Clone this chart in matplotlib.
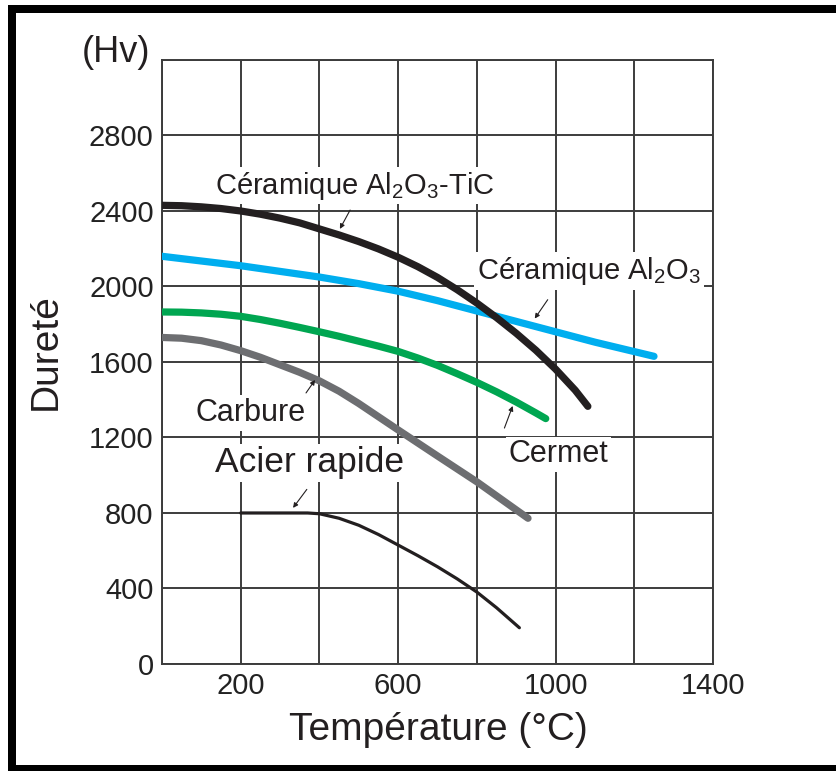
import matplotlib
matplotlib.use("Agg")
import matplotlib.pyplot as plt
from matplotlib.patches import Rectangle

plt.rcParams['font.family'] = ['Liberation Sans', 'DejaVu Sans']
plt.rcParams['mathtext.fontset'] = 'custom'
plt.rcParams['mathtext.rm'] = 'Liberation Sans'
plt.rcParams['mathtext.it'] = 'Liberation Sans'

# Hardness (Hv) versus temperature (deg C) for cutting-tool materials
tic_temp = [0, 50, 100, 150, 200, 250, 300, 350, 400, 450, 500, 550, 600, 650,
            700, 750, 800, 850, 900, 950, 1000, 1050, 1082]
tic_hv = [2430, 2428, 2422, 2413, 2400, 2383, 2362, 2337, 2305, 2273, 2238, 2199,
          2155, 2105, 2048, 1983, 1912, 1835, 1752, 1662, 1562, 1450, 1365]

alu_temp = [0, 100, 200, 300, 400, 500, 600, 700, 800, 900, 1000, 1100, 1250]
alu_hv = [2160, 2135, 2110, 2080, 2050, 2015, 1975, 1925, 1870, 1815, 1760, 1705, 1630]

cermet_temp = [0, 50, 100, 150, 200, 250, 300, 350, 400, 450, 500, 550, 600, 650,
               700, 750, 800, 850, 900, 950, 975]
cermet_hv = [1865, 1864, 1860, 1853, 1842, 1825, 1805, 1783, 1760, 1736, 1710, 1684,
             1656, 1621, 1582, 1538, 1492, 1442, 1388, 1330, 1300]

carb_temp = [0, 50, 100, 150, 200, 250, 300, 350, 400, 450, 500, 600, 700, 800, 930]
carb_hv = [1730, 1726, 1713, 1690, 1660, 1625, 1585, 1545, 1500, 1445, 1380, 1240,
           1102, 965, 772]

hss_temp = [200, 370, 400, 450, 500, 550, 600, 650, 700, 750, 800, 850, 908]
hss_hv = [800, 800, 796, 772, 735, 686, 630, 574, 515, 451, 381, 298, 192]

x_ticks = [200, 600, 1000, 1400]
y_ticks = [0, 400, 800, 1200, 1600, 2000, 2400, 2800]

fig = plt.figure(figsize=(8.37, 7.71), dpi=100)
ax = fig.add_axes([0.1935, 0.1388, 0.6584, 0.7834])

grid_c = '#3c3c3c'
for gx in range(0, 1401, 200):
    ax.axvline(gx, color=grid_c, lw=1.4, zorder=1)
for gy in range(0, 3201, 400):
    ax.axhline(gy, color=grid_c, lw=1.4, zorder=1)

ax.set_xlim(0, 1400)
ax.set_ylim(0, 3200)
for s in ax.spines.values():
    s.set_color(grid_c)
    s.set_linewidth(1.4)

ax.set_xticks(x_ticks)
ax.set_yticks(y_ticks)
ax.tick_params(length=0, labelsize=21, colors='#222222', pad=6)

lw_thick = 5.2
ax.plot(tic_temp, tic_hv, color='#231f20', lw=lw_thick, solid_capstyle='round',
        solid_joinstyle='round', zorder=4)
ax.plot(alu_temp, alu_hv, color='#00aeef', lw=lw_thick, solid_capstyle='round',
        solid_joinstyle='round', zorder=3)
ax.plot(cermet_temp, cermet_hv, color='#00a651', lw=lw_thick, solid_capstyle='round',
        solid_joinstyle='round', zorder=3)
ax.plot(carb_temp, carb_hv, color='#6d6e71', lw=lw_thick, solid_capstyle='round',
        solid_joinstyle='round', zorder=3)
ax.plot(hss_temp, hss_hv, color='#231f20', lw=2.3, solid_capstyle='round',
        solid_joinstyle='round', zorder=3)

box = dict(facecolor='white', edgecolor='none', pad=2)
txt_c = '#231f20'
arrow = dict(arrowstyle='-|>', color='#231f20', lw=0.8, mutation_scale=7, shrinkA=0, shrinkB=0)

ax.text(135, 2535, 'Céramique Al$_2$O$_3$-TiC', fontsize=21, color=txt_c,
        ha='left', va='center', bbox=box, zorder=2)
ax.annotate('', xy=(452, 2305), xytext=(478, 2405), arrowprops=arrow, zorder=5)

ax.text(800, 2080, 'Céramique Al$_2$O$_3$', fontsize=21, color=txt_c,
        ha='left', va='center', bbox=box, zorder=2)
ax.annotate('', xy=(947, 1830), xytext=(980, 1930), arrowprops=arrow, zorder=5)

ax.text(84, 1330, 'Carbure', fontsize=22, color=txt_c,
        ha='left', va='center', bbox=box, zorder=2)
ax.annotate('', xy=(389, 1505), xytext=(366, 1436), arrowprops=arrow, zorder=5)

ax.text(135, 1065, 'Acier rapide', fontsize=25.5, color=txt_c,
        ha='left', va='center', bbox=box, zorder=2)
ax.annotate('', xy=(333, 827), xytext=(368, 925), arrowprops=arrow, zorder=5)

ax.text(881, 1110, 'Cermet', fontsize=22, color=txt_c,
        ha='left', va='center', bbox=box, zorder=2)
ax.annotate('', xy=(891, 1367), xytext=(870, 1250), arrowprops=arrow, zorder=5)

ax.text(-205, 3240, '(Hv)', fontsize=26, color=txt_c, ha='left', va='center',
        clip_on=False)

fig.text(46 / 837, 1 - 352 / 771, 'Dureté', fontsize=28, color=txt_c,
         rotation=90, ha='center', va='center')
fig.text(438 / 837, 1 - 730 / 771, 'Température (°C)', fontsize=28, color=txt_c,
         ha='center', va='center')

# outer frame (left, top and bottom edges)
W, H = 837, 771
fig.add_artist(Rectangle((8 / W, 0), 8 / W, 1 - 5 / H, transform=fig.transFigure,
                         facecolor='black', edgecolor='none'))
fig.add_artist(Rectangle((8 / W, 1 - 13 / H), 1, 8 / H, transform=fig.transFigure,
                         facecolor='black', edgecolor='none'))
fig.add_artist(Rectangle((8 / W, 0), 1, 6 / H, transform=fig.transFigure,
                         facecolor='black', edgecolor='none'))

fig.savefig('out.png', dpi=100)
